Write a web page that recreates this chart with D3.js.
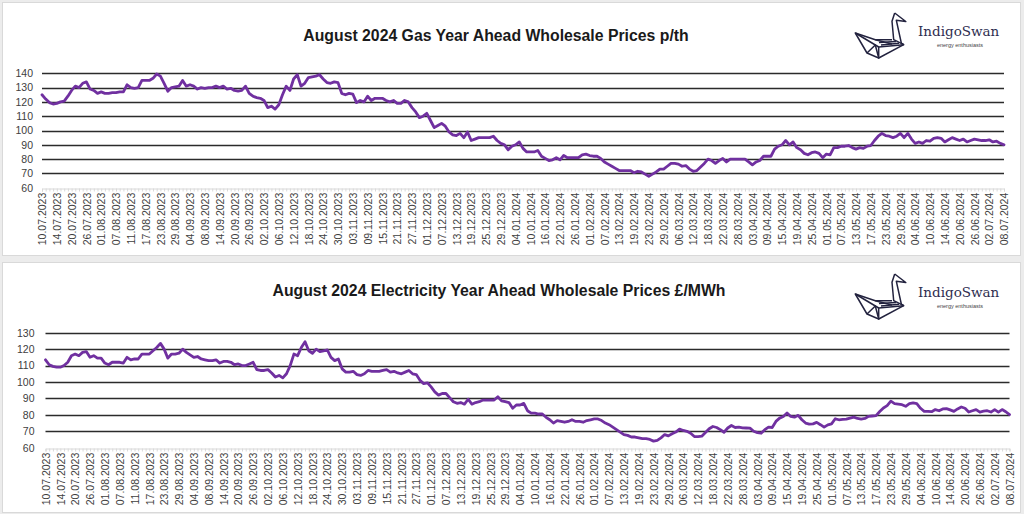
<!DOCTYPE html>
<html>
<head>
<meta charset="utf-8">
<script src="https://cdn.jsdelivr.net/npm/d3@7"></script>
<style>
  body { margin: 0; background: #ececec; }
  svg { display: block; }
</style>
</head>
<body>
<div id="dviz"></div>
<script>
//<<< Data >>>

// every 4th trading day gets a label
const tickLabels = [
  "10.07.2023","14.07.2023","20.07.2023","26.07.2023","01.08.2023","07.08.2023","11.08.2023","17.08.2023",
  "23.08.2023","29.08.2023","04.09.2023","08.09.2023","14.09.2023","20.09.2023","26.09.2023","02.10.2023",
  "06.10.2023","12.10.2023","18.10.2023","24.10.2023","30.10.2023","03.11.2023","09.11.2023","15.11.2023",
  "21.11.2023","27.11.2023","01.12.2023","07.12.2023","13.12.2023","19.12.2023","25.12.2023","29.12.2023",
  "04.01.2024","10.01.2024","16.01.2024","22.01.2024","26.01.2024","01.02.2024","07.02.2024","13.02.2024",
  "19.02.2024","23.02.2024","29.02.2024","06.03.2024","12.03.2024","18.03.2024","22.03.2024","28.03.2024",
  "03.04.2024","09.04.2024","15.04.2024","19.04.2024","25.04.2024","01.05.2024","07.05.2024","13.05.2024",
  "17.05.2024","23.05.2024","29.05.2024","04.06.2024","10.06.2024","14.06.2024","20.06.2024","26.06.2024",
  "02.07.2024","08.07.2024"
];

// Gas year ahead, p/th (one value per trading day)
const gasPrices = [
  125,122,119.5,118.5,119,120,120.5,124,128,131,
  130,133,134,129,128,126,127,126,126,126.5,
  126.5,127,127,132,130,129.5,130,135,135,135,
  136.5,139.5,138,133,127.5,130,130.5,131,135,131,
  132,131,129,130,129.5,130,130,131,130,131,
  129,129.5,128,127.5,128,131,126,124,123,122.5,
  121,116,117,115,118,125,131,128,136,139,
  131,133,137,137.5,138,139,136,133.5,133,134,
  133.5,126,125,126,125.5,119.5,121,120,124,121,
  122.5,122.5,122.5,121,120,121,119,119,121,120,
  116,113,109,110,112,107,102,103.5,105,103,
  99,97,96.5,98,95,99,93,94,95,95,
  95,95,96,93,91,90,86.5,89,90,92,
  87.5,85,85,85,86,82,80.5,79,79.5,81,
  79.5,82.5,81,81,81,81,83,83.5,82.5,82,
  82,80.5,78,76.5,75,73.5,72,72,72,72,
  70.5,71.5,71,69.5,68,69.5,71,73,73,75,
  77,77,76.5,75,75.5,73,71.5,72,74.5,77,
  80,79,77,79,80.5,78,80,80,80,80,
  80,78,76,78,79,82,82,82,87,89,
  90,93,90,92,88,86.5,84,83,84.5,85,
  84,81,83.5,83,88,88,89,89,89.5,88,
  87,88,87.5,89,89.5,93,96,98,96.5,96,
  95,96,98,95,98,94,91,92,91,93,
  92.5,94.5,95,94.5,92,93.5,95,94,93,94,
  92,93,94,93.5,93,93,93.5,92,92.5,91,
  90
];

// Electricity year ahead, £/MWh
const elecPrices = [
  113.5,110.5,109.5,109,109,110,112,116,117,116,
  118,118.5,115,116,114.5,114.5,111.5,110.5,112,112,
  112,111.5,115,113.5,114,114,117,117,117,119,
  121,123.5,120,114.5,117,117,117.5,120,118,116.5,
  115,115.5,114,113.5,113,113,113.5,111.5,112.5,112.5,
  112,110.5,111,110,110,111,112,107.5,107,107,
  107.5,105.5,103,104,102.5,105,110,117,116,121,
  124.5,119,117.5,120,118.5,119,119.5,115,113,114,
  108,106,106,106.5,104.5,104,105,107,106.5,106.5,
  106.5,107,107.5,106,106.5,105.5,105,106,107,105,
  104.5,101,99,99.5,97,94,92,93,93,90.5,
  88,87,87.5,86.5,89.5,86.5,87.5,88,89,89,
  89,89,91,88.5,88,87.5,84,86,86,87,
  82.5,81,81,80.5,80.5,78.5,77,75,76.5,76,
  75.5,76,77,76,76,75.5,76.5,77,77.5,77.5,
  76.5,75,74,72.5,71,69.5,68,67.5,66.5,66.5,
  66,65.5,65.5,65,64,64.5,66,68,67.2,68.5,
  69.5,71.3,70.5,70,68.8,66.8,66.8,67,69.2,71.5,
  72.9,72.3,71,69.4,72,73.5,72.3,72.5,72.1,72,
  71.9,70,69.2,68.8,71,72.5,72.3,76,78,79,
  81.1,79,78.6,79.7,77,75,74.3,74.5,75.4,74,
  72.5,73.9,74.5,77.6,77,77.2,77.4,78,78.6,77.8,
  77.4,77.8,79.1,79.3,79.5,82,84.2,85.6,88.3,86.8,
  86.5,86.2,85.2,86.8,87.3,86.8,84,82.1,82.1,81.9,
  83.2,82.5,83.6,83.8,83,82.1,83.6,84.8,84,81.7,
  82.5,83.2,81.7,82.2,82.5,81.7,83.2,81.7,83.2,81.9,
  80.1
];

const gasTicks = [60,70,80,90,100,110,120,130,140];
const elecTicks = [60,70,80,90,100,110,120,130];

const gasTitle = "August 2024 Gas Year Ahead Wholesale Prices p/th";
const elecTitle = "August 2024 Electricity Year Ahead Wholesale Prices £/MWh";

//<<< Main >>>

const W = 1024, H = 514;
const lineColour = "#7030a0";
const labelFont = "'Liberation Sans', Arial, sans-serif";

const svg = d3.select("#dviz")
  .append("svg")
  .attr("width", W)
  .attr("height", H);

svg.append("rect").attr("width", W).attr("height", H).attr("fill", "#ececec");

// origami swan, drawn in a 56x48 box
function drawLogo(ox, oy){
  var g = svg.append("g").attr("transform", "translate(" + ox + "," + oy + ")");
  var swan = [
    "M42.7,1 L53.8,9.5 L44.3,8.2 L49.3,31 L51.7,32.7 L26.7,46 L15,41 L3.3,21 L23.3,27.7 L40,27.7",
    "M42.7,1 L40,9.3 L41.7,27.7 L51.7,32.7",
    "M3.3,21 L26.7,35 L51.7,32.7",
    "M15,41 L23.3,33 L26.7,46 L26.7,35",
    "M23.3,27.7 L40,32",
    "M27,30.5 L44,29.5",
    "M29,33 L47,31.3"
  ];
  g.selectAll("path")
    .data(swan)
    .enter()
    .append("path")
    .attr("d", function(d){ return d; })
    .attr("fill", "none")
    .attr("stroke", "#23233f")
    .attr("stroke-width", 1.5)
    .attr("stroke-linejoin", "round");
  g.append("text")
    .attr("x", 66).attr("y", 24)
    .attr("font-family", "'DejaVu Serif', serif")
    .attr("font-size", 13.5)
    .attr("fill", "#2e2e50")
    .text("IndigoSwan");
  g.append("text")
    .attr("x", 108).attr("y", 35)
    .attr("text-anchor", "middle")
    .attr("font-family", labelFont)
    .attr("font-size", 5.5)
    .attr("fill", "#444")
    .text("energy enthusiasts");
}

function drawPanel(p){
  // white card
  svg.append("rect")
    .attr("x", p.box[0] + 0.5).attr("y", p.box[1] + 0.5)
    .attr("width", p.box[2]).attr("height", p.box[3])
    .attr("fill", "white")
    .attr("stroke", "#d9d9d9");

  svg.append("text")
    .attr("x", p.titleX).attr("y", p.titleY)
    .attr("text-anchor", "middle")
    .attr("font-family", labelFont)
    .attr("font-weight", "bold")
    .attr("font-size", 15.8)
    .attr("fill", "#1a1a1a")
    .text(p.title);

  drawLogo(852, p.logoY);

  var n = p.values.length;
  var x = d3.scaleLinear().domain([0, n - 1]).range([p.left, p.right]);
  var y = d3.scaleLinear().domain([p.ticks[0], p.ticks[p.ticks.length - 1]]).range([p.bottom, p.top]);

  // gridlines (all but the baseline)
  svg.append("g")
    .selectAll("line")
    .data(p.ticks.slice(1))
    .enter()
    .append("line")
    .attr("x1", p.left).attr("x2", p.right)
    .attr("y1", function(d){ return Math.round(y(d)) + 0.5; })
    .attr("y2", function(d){ return Math.round(y(d)) + 0.5; })
    .attr("stroke", "#2b2b2b")
    .attr("stroke-width", 1.3);

  // y labels
  var yAxis = svg.append("g")
    .attr("transform", "translate(" + p.left + ",0)")
    .call(d3.axisLeft(y).tickValues(p.ticks).tickSize(0).tickPadding(p.yPad));
  yAxis.select(".domain").remove();
  yAxis.selectAll("text")
    .attr("font-family", labelFont)
    .attr("font-size", 10.5)
    .attr("fill", "#404040");

  // baseline with a little tick on every trading day
  var minor = svg.append("g")
    .attr("transform", "translate(0," + (Math.round(p.bottom) + 0.5) + ")")
    .call(d3.axisBottom(x).tickValues(d3.range(n)).tickSize(3).tickFormat(""));
  minor.select(".domain").attr("stroke", "#d9d9d9");
  minor.selectAll(".tick line").attr("stroke", "#d9d9d9");

  // date labels
  var xAxis = svg.append("g")
    .attr("transform", "translate(0," + p.bottom + ")")
    .call(d3.axisBottom(x)
      .tickValues(d3.range(0, n, 4))
      .tickSize(0)
      .tickFormat(function(d){ return tickLabels[d / 4]; }));
  xAxis.select(".domain").remove();
  xAxis.selectAll("text")
    .attr("transform", "rotate(-90)")
    .attr("text-anchor", "end")
    .attr("x", -5)
    .attr("y", 0)
    .attr("dy", ".35em")
    .attr("font-family", labelFont)
    .attr("font-size", 10.5)
    .attr("fill", "#404040");

  svg.append("path")
    .datum(p.values)
    .attr("fill", "none")
    .attr("stroke", lineColour)
    .attr("stroke-width", 2.8)
    .attr("stroke-linejoin", "round")
    .attr("stroke-linecap", "round")
    .attr("d", d3.line()
      .x(function(d, i){ return x(i); })
      .y(function(d){ return y(d); }));
}

drawPanel({
  title: gasTitle, values: gasPrices, ticks: gasTicks,
  box: [2, 2, 1018, 253], titleX: 496, titleY: 41, logoY: 12,
  left: 42, right: 1004, top: 73.3, bottom: 187.7, yPad: 9
});

drawPanel({
  title: elecTitle, values: elecPrices, ticks: elecTicks,
  box: [2, 262, 1018, 250], titleX: 499, titleY: 296, logoY: 273,
  left: 45.5, right: 1009.5, top: 332.7, bottom: 447.7, yPad: 11
});
</script>
</body>
</html>
